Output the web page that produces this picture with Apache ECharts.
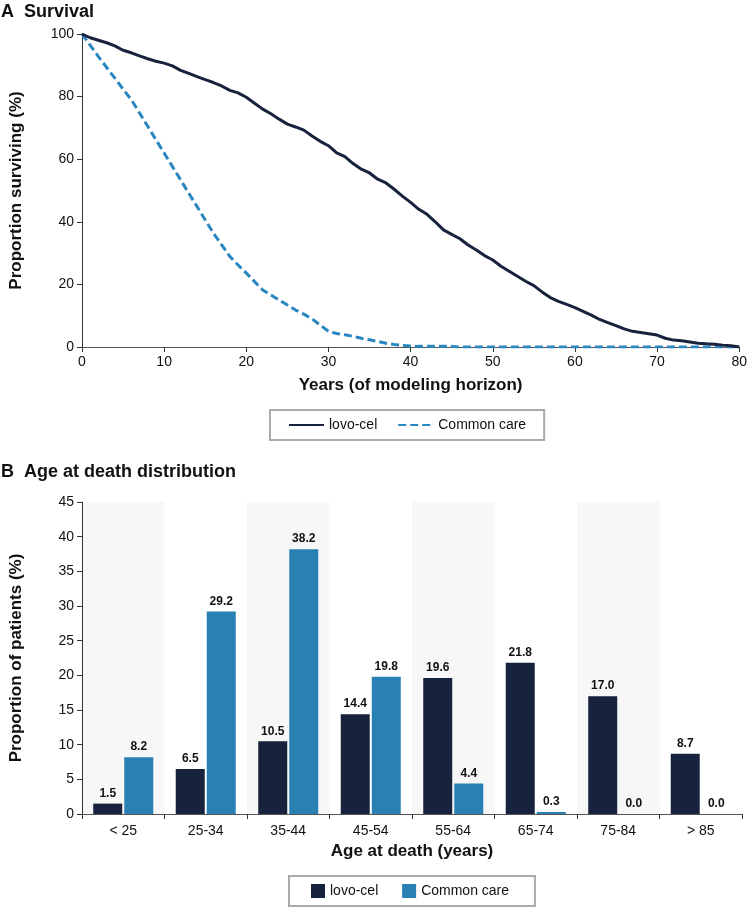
<!DOCTYPE html>
<html>
<head>
<meta charset="utf-8">
<script src="https://cdn.jsdelivr.net/npm/echarts@6/dist/echarts.min.js"></script>
<style>
html,body{margin:0;padding:0;background:#fff;}
#chart{width:750px;height:909px;}
</style>
</head>
<body>
<div id="chart"></div>
<script>
// ---- Panel A: survival (%) by year of modeling horizon ----
const years = [0,1,2,3,4,5,6,7,8,9,10,11,12,13,14,15,16,17,18,19,20,21,22,23,24,25,26,27,28,29,30,31,32,33,34,35,36,37,38,39,40,41,42,43,44,45,46,47,48,49,50,51,52,53,54,55,56,57,58,59,60,61,62,63,64,65,66,67,68,69,70,71,72,73,74,75,76,77,78,79,80];
const lovoCelSurv = [100,98.8,98.0,97.2,96.2,94.8,94.0,93.0,92.1,91.3,90.7,89.8,88.4,87.4,86.4,85.4,84.5,83.4,82.0,81.2,79.8,77.9,76.0,74.5,72.8,71.2,70.3,69.3,67.4,65.7,64.3,62.0,60.8,58.6,56.8,55.6,53.6,52.4,50.4,48.2,46.2,44.0,42.4,40.0,37.4,36.0,34.6,32.6,31.0,29.2,27.8,25.8,24.2,22.6,21.0,19.6,17.6,15.8,14.6,13.6,12.6,11.4,10.2,8.8,7.8,6.8,5.8,5.0,4.6,4.2,3.8,2.8,2.2,2.0,1.6,1.2,1.0,0.9,0.6,0.4,0];
const commonCareSurv = [100,96.4,92.8,89.3,85.9,82.4,79.0,74.8,70.5,66.2,62.0,57.7,53.4,49.1,44.9,40.6,36.4,32.6,28.9,26.2,23.6,20.9,18.2,16.6,15.0,13.4,11.8,10.5,9.0,7.0,5.0,4.3,3.9,3.4,2.8,2.3,1.8,1.2,0.8,0.5,0.3,0.2,0.2,0.2,0.2,0.2,0,0,0,0,0,0,0,0,0,0,0,0,0,0,0,0,0,0,0,0,0,0,0,0,0,0,0,0,0,0,0,0,0,0,0];
const xTicksA = [0,10,20,30,40,50,60,70,80];
const yTicksA = [0,20,40,60,80,100];

// ---- Panel B: age at death distribution (%) ----
const ageGroups = ['< 25','25-34','35-44','45-54','55-64','65-74','75-84','> 85'];
const lovoCelDeath = [1.5,6.5,10.5,14.4,19.6,21.8,17.0,8.7];
const commonCareDeath = [8.2,29.2,38.2,19.8,4.4,0.3,0.0,0.0];
const yTicksB = [0,5,10,15,20,25,30,35,40,45];

const NAVY = '#17223d';
const BLUE = '#2980b2';
const LINEBLUE = '#2a86c1';
const FONT = 'Liberation Sans, Arial, Helvetica, sans-serif';
const NARROW = 'Liberation Sans Narrow, Arial Narrow, Liberation Sans, sans-serif';

const chart = echarts.init(document.getElementById('chart'), null, {renderer:'canvas'});

const axisCommon = {
  axisLine:{show:true, lineStyle:{color:'#333', width:1}},
  axisTick:{show:true, inside:false, length:5, lineStyle:{color:'#333'}},
  axisLabel:{color:'#111', fontSize:14, fontFamily:FONT},
  splitLine:{show:false},
  nameTextStyle:{color:'#111', fontSize:17, fontWeight:'bold', fontFamily:FONT}
};

const option = {
  animation:false,
  backgroundColor:'#fff',
  textStyle:{fontFamily:FONT},
  title:[
    {text:'A  Survival', left:1, top:3, padding:0,
     textStyle:{fontSize:18, fontWeight:'bold', color:'#111', fontFamily:FONT}},
    {text:'B  Age at death distribution', left:1, top:463, padding:0,
     textStyle:{fontSize:18, fontWeight:'bold', color:'#111', fontFamily:FONT}}
  ],
  legend:[
    {data:['lovo-cel','Common care'], left:270, top:410,
     orient:'horizontal', itemWidth:35, itemHeight:14, itemGap:20,
     padding:[8,18], borderColor:'#aaa', borderWidth:2, borderRadius:0,
     itemStyle:{opacity:0},
     textStyle:{fontSize:14, color:'#111', fontFamily:FONT},
     selectedMode:false
    },
    {data:[{name:'lovo-cel ', icon:'rect'},{name:'Common care ', icon:'rect'}], left:289, top:876,
     itemWidth:14, itemHeight:14, itemGap:20,
     padding:[8,22], borderColor:'#aaa', borderWidth:2, borderRadius:0,
     textStyle:{fontSize:14, color:'#111', fontFamily:FONT},
     selectedMode:false}
  ],
  grid:[
    {left:73, right:9, top:34, height:313, containLabel:false},
    {left:73, right:8, top:502, height:312, containLabel:false}
  ],
  xAxis:[
    Object.assign({}, axisCommon, {
      gridIndex:0, type:'value', min:xTicksA[0], max:xTicksA[xTicksA.length-1], interval:10,
      name:'Years (of modeling horizon)', nameLocation:'middle', nameGap:30,
      axisLine:{show:true, lineStyle:{color:'#555', width:1}},
      axisLabel:Object.assign({}, axisCommon.axisLabel, {margin:8})
    }),
    Object.assign({}, axisCommon, {
      gridIndex:1, type:'category', data:ageGroups, boundaryGap:true,
      name:'Age at death (years)', nameLocation:'middle', nameGap:29,
      axisLine:{show:true, lineStyle:{color:'#555', width:1}},
      axisTick:{show:true, inside:false, length:5, alignWithLabel:false, lineStyle:{color:'#333'}},
      axisLabel:Object.assign({}, axisCommon.axisLabel, {margin:10, interval:0}),
      splitArea:{show:true, interval:0, areaStyle:{color:['#f7f7f7','rgba(255,255,255,0)']}}
    })
  ],
  yAxis:[
    Object.assign({}, axisCommon, {
      gridIndex:0, type:'value', min:yTicksA[0], max:yTicksA[yTicksA.length-1], interval:20,
      name:'Proportion surviving (%)', nameLocation:'middle', nameGap:57,
      axisLabel:Object.assign({}, axisCommon.axisLabel, {margin:8})
    }),
    Object.assign({}, axisCommon, {
      gridIndex:1, type:'value', min:yTicksB[0], max:yTicksB[yTicksB.length-1], interval:5,
      name:'Proportion of patients (%)', nameLocation:'middle', nameGap:57,
      axisLabel:Object.assign({}, axisCommon.axisLabel, {margin:8})
    })
  ],
  series:[
    {name:'Common care', type:'line', xAxisIndex:0, yAxisIndex:0, symbol:'none',
     data:years.map((y,i)=>[y, commonCareSurv[i]]),
     lineStyle:{color:LINEBLUE, width:3, type:[8,4]}, itemStyle:{color:LINEBLUE}, z:2},
    {name:'lovo-cel', type:'line', xAxisIndex:0, yAxisIndex:0, symbol:'none',
     data:years.map((y,i)=>[y, lovoCelSurv[i]]),
     lineStyle:{color:NAVY, width:3}, itemStyle:{color:NAVY}, z:3},
    {name:'lovo-cel ', type:'bar', xAxisIndex:1, yAxisIndex:1, data:lovoCelDeath,
     barWidth:29, barGap:'7%', itemStyle:{color:NAVY},
     label:{show:true, position:'top', distance:4, color:'#111', fontSize:12, fontWeight:'bold', fontFamily:NARROW,
            formatter:p=>p.value.toFixed(1)}},
    {name:'Common care ', type:'bar', xAxisIndex:1, yAxisIndex:1, data:commonCareDeath,
     barWidth:29, barGap:'7%', itemStyle:{color:BLUE},
     label:{show:true, position:'top', distance:4, color:'#111', fontSize:12, fontWeight:'bold', fontFamily:NARROW,
            formatter:p=>p.value.toFixed(1)}}
  ]
};
chart.setOption(option);
</script>
</body>
</html>
